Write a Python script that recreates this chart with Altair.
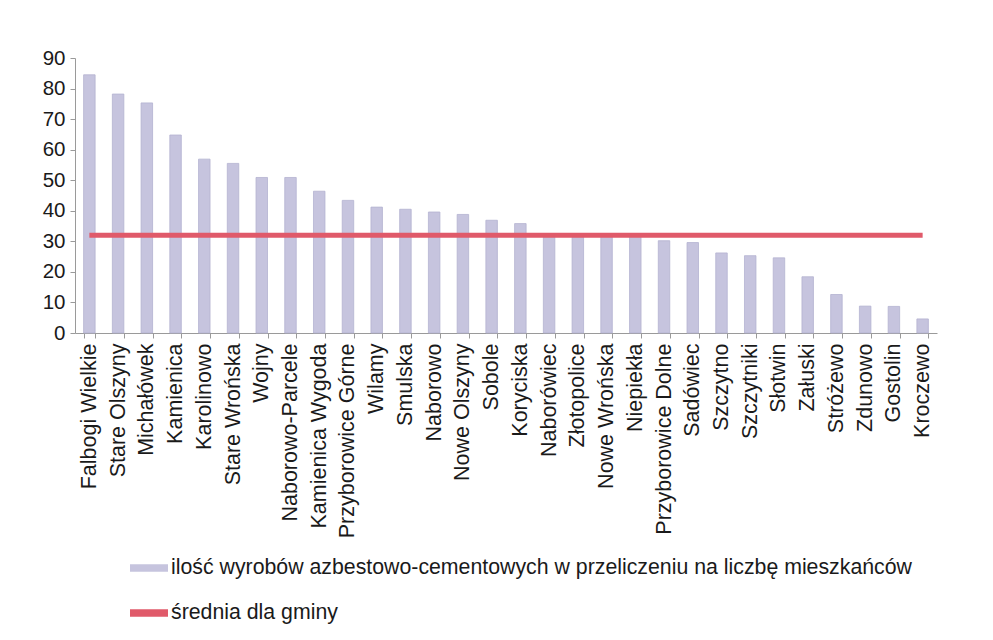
import altair as alt
import pandas as pd

categories = [
    "Falbogi Wielkie", "Stare Olszyny", "Michałówek", "Kamienica", "Karolinowo",
    "Stare Wrońska", "Wojny", "Naborowo-Parcele", "Kamienica Wygoda", "Przyborowice Górne",
    "Wilamy", "Smulska", "Naborowo", "Nowe Olszyny", "Sobole",
    "Koryciska", "Naborówiec", "Złotopolice", "Nowe Wrońska", "Niepiekła",
    "Przyborowice Dolne", "Sadówiec", "Szczytno", "Szczytniki", "Słotwin",
    "Załuski", "Stróżewo", "Zdunowo", "Gostolin", "Kroczewo",
]
values = [
    84.5, 78.2, 75.3, 64.8, 56.9,
    55.5, 50.9, 50.9, 46.4, 43.4,
    41.2, 40.5, 39.6, 38.8, 36.9,
    35.8, 31.5, 31.5, 32.0, 32.3,
    30.2, 29.6, 26.2, 25.3, 24.6,
    18.4, 12.6, 8.8, 8.7, 4.6,
]
mean_value = 32.0
y_ticks = [0, 10, 20, 30, 40, 50, 60, 70, 80, 90]

bar_label = "ilość wyrobów azbestowo-cementowych w przeliczeniu na liczbę mieszkańców"
line_label = "średnia dla gminy"
bar_color = "#c6c4de"
line_color = "#e05a6a"

bars_df = pd.DataFrame({"wies": categories, "wartosc": values, "seria": bar_label})
line_df = pd.DataFrame({"wies": categories, "wartosc": [mean_value] * len(categories)})

x_enc = alt.X(
    "wies:N",
    sort=categories,
    scale=alt.Scale(paddingInner=0.6, paddingOuter=0.3),
    axis=alt.Axis(
        title=None, labelAngle=-90, tickBand="extent", labelFontSize=21.5,
        labelPadding=5, tickSize=5, labelLimit=0, labelOverlap=False,
    ),
)

y_enc = alt.Y(
    "wartosc:Q",
    scale=alt.Scale(domain=[0, 90], nice=False),
    axis=alt.Axis(
        title=None, values=y_ticks, labelFontSize=20.5, tickSize=5, labelPadding=5,
        grid=False, labelOverlap=False,
    ),
)

bars = alt.Chart(bars_df).mark_bar(stroke="#b4b2d0", strokeWidth=0.8).encode(
    x=x_enc,
    y=y_enc,
    color=alt.Color(
        "seria:N",
        scale=alt.Scale(domain=[bar_label, line_label], range=[bar_color, line_color]),
        legend=alt.Legend(
            title=None, orient="none", legendX=55, legendY=491, direction="vertical",
            symbolType="M-1,-0.2H1V0.2H-1Z", symbolSize=1444, symbolStrokeWidth=0,
            labelFontSize=21.3, labelLimit=0, labelOffset=3, rowPadding=15, padding=0,
            labelColor="#1a1a1a",
        ),
    ),
)

line = alt.Chart(line_df).mark_line(color=line_color, strokeWidth=5).encode(
    x=x_enc,
    y=y_enc,
)

chart = (
    alt.layer(bars, line)
    .properties(
        width=862,
        height=275,
        autosize=alt.AutoSizeParams(type="none"),
        padding={"left": 67, "top": 50, "right": 30, "bottom": 300},
    )
    .configure(font="Liberation Sans")
    .configure_view(stroke=None)
    .configure_axis(
        domainColor="#9a9a9a", tickColor="#9a9a9a", labelColor="#1a1a1a", labelFont="Liberation Sans",
    )
    .configure_legend(labelFont="Liberation Sans")
)

chart.save("out.html", embed_options={"renderer": "svg", "actions": False})
